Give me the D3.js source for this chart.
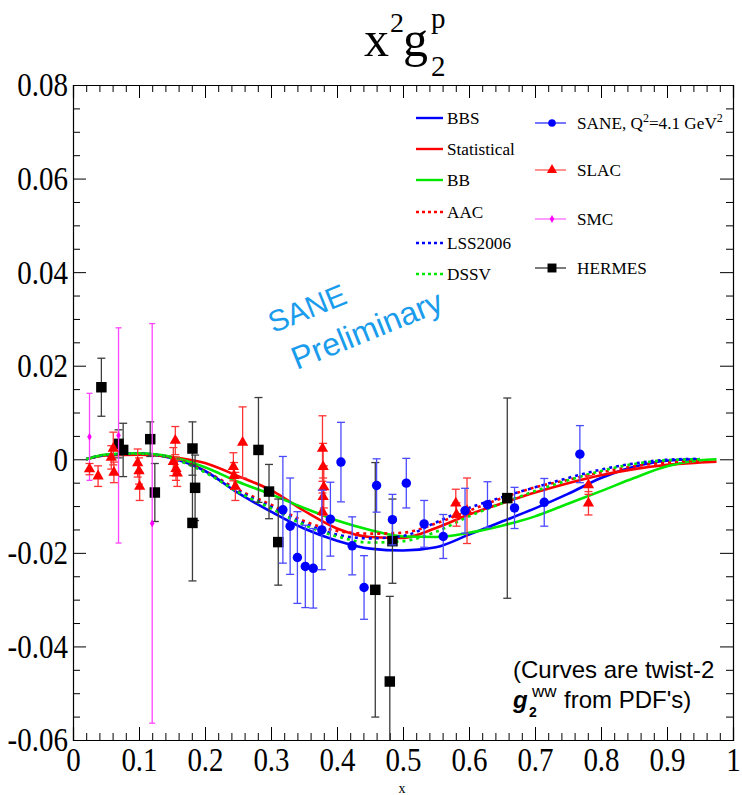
<!DOCTYPE html>
<html>
<head>
<meta charset="utf-8">
<script src="https://cdn.jsdelivr.net/npm/d3@7"></script>
<style>
  html, body { margin: 0; padding: 0; background: #fff; }
  svg { display: block; }
  .serif { font-family: "Liberation Serif", "Times New Roman", serif; }
  .sans { font-family: "Liberation Sans", Arial, sans-serif; }
</style>
</head>
<body>
<svg id="chart" width="742" height="795"></svg>
<script>
// ---- axis ticks ----
const xTickValues = [0, 0.1, 0.2, 0.3, 0.4, 0.5, 0.6, 0.7, 0.8, 0.9, 1];
const xTickLabels = ["0", "0.1", "0.2", "0.3", "0.4", "0.5", "0.6", "0.7", "0.8", "0.9", "1"];
const yTickValues = [-0.06, -0.04, -0.02, 0, 0.02, 0.04, 0.06, 0.08];
const yTickLabels = ["-0.06", "-0.04", "-0.02", "0", "0.02", "0.04", "0.06", "0.08"];

// ---- twist-2 g2^WW curves, sampled in x ----
const curveX   = [0.02, 0.05, 0.1, 0.15, 0.2, 0.25, 0.3, 0.35, 0.4, 0.45, 0.5, 0.55, 0.6, 0.65, 0.7, 0.75, 0.8, 0.85, 0.9, 0.95, 0.975];
const bbs      = [0, 0.0009, 0.0012, 0.0002, -0.0025, -0.0072, -0.0112, -0.0148, -0.0174, -0.0191, -0.0195, -0.0188, -0.0161, -0.0133, -0.0105, -0.0074, -0.0040, -0.0016, -0.0003, 0.0000, null];
const statistical = [0, 0.0008, 0.0010, 0.0005, -0.0008, -0.0036, -0.0066, -0.0110, -0.0148, -0.0166, -0.0168, -0.0147, -0.0118, -0.0094, -0.0071, -0.0051, -0.0034, -0.0021, -0.0012, -0.0007, -0.0005];
const bb       = [0, 0.0010, 0.0013, 0.0005, -0.0017, -0.0048, -0.0075, -0.0104, -0.0131, -0.0151, -0.0165, -0.0166, -0.0157, -0.0142, -0.0122, -0.0095, -0.0068, -0.0040, -0.0015, -0.0002, 0.0000];
const aac      = [0, 0.0009, 0.0011, 0.0003, -0.0025, -0.0065, -0.0097, -0.0132, -0.0153, -0.0159, -0.0157, -0.0137, -0.0110, -0.0083, -0.0060, -0.0044, -0.0028, -0.0015, -0.0007, -0.0003, null];
const lss2006  = [0, 0.0009, 0.0012, 0.0002, -0.0027, -0.0068, -0.0102, -0.0137, -0.0161, -0.0169, -0.0164, -0.0135, -0.0104, -0.0081, -0.0060, -0.0040, -0.0022, -0.0009, -0.0001, 0.0001, null];
const dssv     = [0, 0.0010, 0.0012, 0.0002, -0.0028, -0.0070, -0.0105, -0.0140, -0.0165, -0.0178, -0.0175, -0.0155, -0.0122, -0.0094, -0.0068, -0.0045, -0.0025, -0.0010, -0.0002, 0.0000, null];

// ---- measurements: x, x^2 g2, error ----
const saneX   = [0.318, 0.329, 0.340, 0.352, 0.364, 0.377, 0.390, 0.406, 0.423, 0.441, 0.460, 0.484, 0.505, 0.532, 0.561, 0.594, 0.628, 0.669, 0.714, 0.768];
const saneY   = [-0.0108, -0.0143, -0.0210, -0.0229, -0.0233, -0.0151, -0.0128, -0.0006, -0.0185, -0.0274, -0.0056, -0.0129, -0.0051, -0.0138, -0.0165, -0.0110, -0.0097, -0.0104, -0.0092, 0.0011];
const saneErr = [0.0114, 0.0103, 0.0098, 0.0088, 0.0085, 0.0085, 0.0079, 0.0085, 0.0062, 0.0068, 0.0057, 0.0054, 0.0053, 0.0050, 0.0047, 0.0048, 0.0049, 0.0044, 0.0051, 0.0061];

const slacX   = [0.025, 0.038, 0.058, 0.061, 0.062, 0.098, 0.100, 0.101, 0.152, 0.155, 0.156, 0.158, 0.243, 0.244, 0.246, 0.257, 0.378, 0.379, 0.380, 0.379, 0.378, 0.580, 0.581, 0.597, 0.781, 0.781];
const slacY   = [-0.0021, -0.0036, 0.0004, 0.0023, -0.0028, -0.0008, -0.0025, -0.0058, -0.0005, 0.0040, -0.0020, -0.0030, -0.0016, -0.0035, -0.0058, 0.0036, 0.0023, -0.0016, -0.0059, -0.0080, -0.0112, -0.0094, -0.0118, -0.0110, -0.0055, -0.0094];
const slacErr = [0.0012, 0.0022, 0.0025, 0.0035, 0.0022, 0.0030, 0.0028, 0.0030, 0.0030, 0.0030, 0.0025, 0.0028, 0.0030, 0.0028, 0.0030, 0.0076, 0.0070, 0.0050, 0.0045, 0.0040, 0.0040, 0.0030, 0.0025, 0.0070, 0.0020, 0.0025];

const smcX   = [0.025, 0.069, 0.120];
const smcY   = [0.0048, 0.0051, -0.0137];
const smcErr = [0.0093, 0.0230, 0.0427];

const hermesX   = [0.043, 0.069, 0.076, 0.117, 0.124, 0.181, 0.185, 0.181, 0.281, 0.297, 0.311, 0.458, 0.484, 0.480, 0.658];
const hermesY   = [0.0154, 0.0033, 0.0020, 0.0043, -0.0071, 0.0023, -0.0061, -0.0136, 0.0020, -0.0069, -0.0177, -0.0279, -0.0175, -0.0475, -0.0083];
const hermesErr = [0.0062, 0.0030, 0.0057, 0.0037, 0.0062, 0.0057, 0.0070, 0.0124, 0.0112, 0.0058, 0.0092, 0.0272, 0.0090, 0.0182, 0.0214];

const curveNames = ["BBS", "Statistical", "BB", "AAC", "LSS2006", "DSSV"];
const dataNames = ["SANE", "SLAC", "SMC", "HERMES"];

// ---- layout ----
const svg = d3.select("#chart");
const frame = { left: 73, right: 733, top: 85, bottom: 740 };
const x = d3.scaleLinear().domain([0, 1]).range([frame.left, frame.right]);
const y = d3.scaleLinear().domain([-0.06, 0.08]).range([frame.bottom, frame.top]);
const STRETCH = 1.17;

svg.append("defs").append("clipPath").attr("id", "plotClip")
  .append("rect").attr("x", frame.left).attr("y", frame.top)
  .attr("width", frame.right - frame.left).attr("height", frame.bottom - frame.top);

// ---- axes: ticks inside the frame on all four sides ----
const minorX = d3.range(0, 1.0001, 0.02).filter(v => Math.abs(v * 10 - Math.round(v * 10)) > 1e-6);
const minorY = d3.range(-0.06, 0.08001, 0.005).filter(v => Math.abs(v * 50 - Math.round(v * 50)) > 1e-6);

function styleAxis(g) {
  g.select(".domain").attr("stroke", "#000").attr("stroke-width", 1.2);
  g.selectAll(".tick line").attr("stroke", "#000").attr("stroke-width", 1);
}
function minorAxis(g) {
  g.select(".domain").remove();
  g.selectAll("line").attr("stroke", "#000");
}

const gx = svg.append("g").attr("transform", `translate(0,${frame.bottom})`)
  .call(d3.axisBottom(x).tickValues(xTickValues).tickSize(-13).tickPadding(6)
    .tickFormat((d, i) => xTickLabels[i]));
styleAxis(gx);
gx.selectAll(".tick text").attr("class", "serif").attr("font-size", 29).attr("fill", "#000")
  .attr("transform", `scale(1,${STRETCH})`);
svg.append("g").attr("transform", `translate(0,${frame.bottom})`)
  .call(d3.axisBottom(x).tickValues(minorX).tickSize(-7).tickFormat("")).call(minorAxis);

const gxt = svg.append("g").attr("transform", `translate(0,${frame.top})`)
  .call(d3.axisTop(x).tickValues(xTickValues).tickSize(-13).tickFormat(""));
styleAxis(gxt);
svg.append("g").attr("transform", `translate(0,${frame.top})`)
  .call(d3.axisTop(x).tickValues(minorX).tickSize(-7).tickFormat("")).call(minorAxis);

const gy = svg.append("g").attr("transform", `translate(${frame.left},0)`)
  .call(d3.axisLeft(y).tickValues(yTickValues).tickSize(-13).tickPadding(5)
    .tickFormat((d, i) => yTickLabels[i]));
styleAxis(gy);
gy.selectAll(".tick text").attr("class", "serif").attr("font-size", 29).attr("fill", "#000")
  .attr("transform", `scale(1,${STRETCH})`);
svg.append("g").attr("transform", `translate(${frame.left},0)`)
  .call(d3.axisLeft(y).tickValues(minorY).tickSize(-7).tickFormat("")).call(minorAxis);

const gyr = svg.append("g").attr("transform", `translate(${frame.right},0)`)
  .call(d3.axisRight(y).tickValues(yTickValues).tickSize(-13).tickFormat(""));
styleAxis(gyr);
svg.append("g").attr("transform", `translate(${frame.right},0)`)
  .call(d3.axisRight(y).tickValues(minorY).tickSize(-7).tickFormat("")).call(minorAxis);

// axis title
svg.append("text").attr("class", "serif").attr("x", 402).attr("y", 793)
  .attr("text-anchor", "middle").attr("font-size", 14).text("x");

// ---- title x^2 g_2^p ----
const title = svg.append("g").attr("class", "serif").attr("fill", "#000");
title.append("text").attr("x", 364).attr("y", 56).attr("font-size", 50).text("x");
title.append("text").attr("x", 390).attr("y", 32).attr("font-size", 28).text("2");
title.append("text").attr("x", 403).attr("y", 56).attr("font-size", 50).text("g");
title.append("text").attr("x", 431).attr("y", 28).attr("font-size", 29).text("p");
title.append("text").attr("x", 431).attr("y", 76).attr("font-size", 29).text("2");

// ---- curves ----
const plot = svg.append("g").attr("clip-path", "url(#plotClip)");
const curveSpecs = [
  { vals: bbs, color: "#0000ff", dash: null },
  { vals: statistical, color: "#ff0000", dash: null },
  { vals: bb, color: "#00e800", dash: null },
  { vals: aac, color: "#ff0000", dash: "3,4" },
  { vals: lss2006, color: "#0000ff", dash: "3,4" },
  { vals: dssv, color: "#00e800", dash: "3,4" }
];
const line = d3.line()
  .defined(d => d[1] !== null)
  .x(d => x(d[0])).y(d => y(d[1]))
  .curve(d3.curveMonotoneX);
curveSpecs.forEach(c => {
  plot.append("path")
    .datum(curveX.map((xv, i) => [xv, c.vals[i]]))
    .attr("d", line)
    .attr("fill", "none")
    .attr("stroke", c.color)
    .attr("stroke-width", 2.6)
    .attr("stroke-dasharray", c.dash);
});

// ---- data points with error bars ----
function drawSet(xs, ys, errs, opt) {
  const g = plot.append("g");
  xs.forEach((xv, i) => {
    const px = x(xv);
    const y1 = y(ys[i] + errs[i]), y2 = y(ys[i] - errs[i]);
    g.append("line").attr("x1", px).attr("x2", px).attr("y1", y1).attr("y2", y2)
      .attr("stroke", opt.bar).attr("stroke-width", 1.3);
    [y1, y2].forEach(cy => g.append("line")
      .attr("x1", px - opt.cap).attr("x2", px + opt.cap).attr("y1", cy).attr("y2", cy)
      .attr("stroke", opt.bar).attr("stroke-width", 1.3));
  });
  xs.forEach((xv, i) => {
    g.append("path")
      .attr("transform", `translate(${x(xv)},${y(ys[i])})`)
      .attr("d", d3.symbol().type(opt.symbol).size(opt.size)())
      .attr("fill", opt.fill);
  });
}

drawSet(hermesX, hermesY, hermesErr, { bar: "#3c3c3c", cap: 4, symbol: d3.symbolSquare, size: 110, fill: "#000" });
drawSet(smcX, smcY, smcErr, { bar: "#ff44ff", cap: 3, symbol: d3.symbolDiamond, size: 18, fill: "#ff00ff" });
drawSet(slacX, slacY, slacErr, { bar: "#ff3333", cap: 4, symbol: d3.symbolTriangle, size: 55, fill: "#ff0000" });
drawSet(saneX, saneY, saneErr, { bar: "#4a4aff", cap: 4, symbol: d3.symbolCircle, size: 70, fill: "#0000ff" });

// ---- legend ----
const legend = svg.append("g");
const LEGEND_FONT = 17.2;
const curveRows = [118, 149, 180, 212, 243, 274];
curveNames.forEach((name, i) => {
  const c = curveSpecs[i];
  legend.append("line").attr("x1", 416).attr("x2", 443).attr("y1", curveRows[i]).attr("y2", curveRows[i])
    .attr("stroke", c.color).attr("stroke-width", 2.4).attr("stroke-dasharray", c.dash ? "3,3" : null);
  legend.append("text").attr("class", "serif").attr("font-size", LEGEND_FONT)
    .attr("x", 447).attr("y", curveRows[i] + 6).text(name);
});

const dataRows = [123, 170, 219, 268];
const dataStyles = [
  { color: "#2a2aff", symbol: d3.symbolCircle, size: 45, fill: "#0000ff" },
  { color: "#ff5555", symbol: d3.symbolTriangle, size: 45, fill: "#ff0000" },
  { color: "#ff66ff", symbol: d3.symbolDiamond, size: 18, fill: "#ff00ff" },
  { color: "#333", symbol: d3.symbolSquare, size: 80, fill: "#000" }
];
dataNames.forEach((name, i) => {
  const s = dataStyles[i], ry = dataRows[i];
  legend.append("line").attr("x1", 535).attr("x2", 566).attr("y1", ry).attr("y2", ry)
    .attr("stroke", s.color).attr("stroke-width", 1.3);
  legend.append("path").attr("transform", `translate(552,${ry})`)
    .attr("d", d3.symbol().type(s.symbol).size(s.size)()).attr("fill", s.fill);
  const t = legend.append("text").attr("class", "serif").attr("font-size", LEGEND_FONT)
    .attr("x", 577).attr("y", ry + 6);
  if (i === 0) {
    t.append("tspan").text("SANE, Q");
    t.append("tspan").attr("font-size", 12).attr("dy", -7).text("2");
    t.append("tspan").attr("dy", 7).text("=4.1 GeV");
    t.append("tspan").attr("font-size", 12).attr("dy", -7).text("2");
  } else {
    t.text(name);
  }
});

// ---- preliminary stamp ----
const stamp = svg.append("g").attr("class", "sans").attr("fill", "#1a9cec");
stamp.append("text").attr("text-anchor", "middle").attr("font-size", 30)
  .attr("transform", "translate(311,318) rotate(-22)").text("SANE");
stamp.append("text").attr("text-anchor", "middle").attr("font-size", 32)
  .attr("transform", "translate(371,340) rotate(-22)").text("Preliminary");

// ---- note on the curves ----
const note = svg.append("g").attr("class", "sans").attr("fill", "#000");
note.append("text").attr("x", 513).attr("y", 678).attr("font-size", 24).text("(Curves are twist-2");
note.append("text").attr("x", 513).attr("y", 708).attr("font-size", 24)
  .attr("font-weight", "bold").attr("font-style", "italic").text("g");
note.append("text").attr("x", 529).attr("y", 717).attr("font-size", 14)
  .attr("font-weight", "bold").text("2");
note.append("text").attr("x", 532).attr("y", 697).attr("font-size", 17).text("ww");
note.append("text").attr("x", 564).attr("y", 708).attr("font-size", 24).text(" from PDF's)");
</script>
</body>
</html>
